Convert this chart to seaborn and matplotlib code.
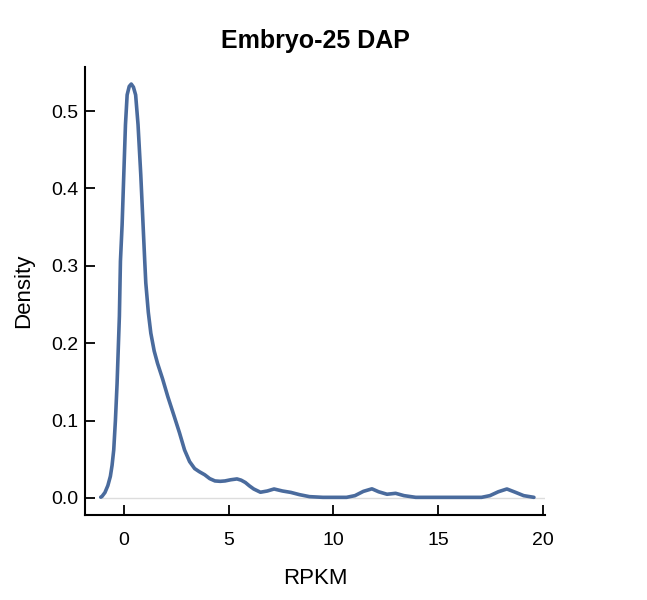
import numpy as np
import pandas as pd
import matplotlib
matplotlib.use("Agg")
import matplotlib.pyplot as plt
import seaborn as sns

# Traced KDE curve (RPKM vs density)
rpkm = [-1.10, -1.04, -0.90, -0.76, -0.64, -0.56, -0.48, -0.40, -0.32, -0.21,
        -0.16, -0.08, 0.00, 0.08, 0.16, 0.26, 0.357, 0.46, 0.565, 0.68,
        0.81, 0.92, 1.00, 1.05, 1.17, 1.29, 1.45, 1.61, 1.85, 2.10,
        2.40, 2.66, 2.90, 3.14, 3.38, 3.60, 3.86, 4.10, 4.35, 4.60,
        4.83, 5.10, 5.40, 5.60, 5.80, 6.00, 6.20, 6.52, 6.85, 7.17,
        7.57, 7.97, 8.38, 8.86, 9.50, 10.63, 11.03, 11.43, 11.84, 12.16,
        12.56, 12.97, 13.37, 13.93, 17.07, 17.47, 17.87, 18.28, 18.68, 19.08,
        19.57]
density = [0.001, 0.002, 0.007, 0.016, 0.028, 0.042, 0.062, 0.100, 0.148, 0.235,
           0.306, 0.353, 0.418, 0.4825, 0.521, 0.532, 0.535, 0.531, 0.521, 0.4825,
           0.418, 0.353, 0.306, 0.278, 0.240, 0.213, 0.190, 0.174, 0.154, 0.131,
           0.106, 0.084, 0.062, 0.047, 0.038, 0.034, 0.030, 0.025, 0.022, 0.0215,
           0.022, 0.0235, 0.0246, 0.023, 0.020, 0.0155, 0.0116, 0.0074, 0.009, 0.0116,
           0.009, 0.0072, 0.0043, 0.0017, 0.0008, 0.0008, 0.003, 0.0085, 0.0118, 0.008,
           0.0048, 0.006, 0.003, 0.0008, 0.0008, 0.003, 0.008, 0.0116, 0.0074, 0.003,
           0.0008]

x_ticks = [0, 5, 10, 15, 20]
y_ticks = [0.0, 0.1, 0.2, 0.3, 0.4, 0.5]

df = pd.DataFrame({"RPKM": rpkm, "Density": density})

sns.set_style("ticks")
plt.rcParams["font.family"] = ["Liberation Sans", "DejaVu Sans"]
plt.rcParams["text.color"] = "black"
plt.rcParams["axes.labelcolor"] = "black"

fig = plt.figure(figsize=(6.47, 6.0), dpi=100)
ax = fig.add_axes([0.1314, 0.1417, 0.7110, 0.7466])

xlim = (-1.85, 20.1)
ax.set_xlim(xlim)
ax.set_ylim(-0.022, 0.557)

# light baseline at zero, starting where the curve starts
x0 = (min(rpkm) - xlim[0]) / (xlim[1] - xlim[0])
ax.axhline(0, xmin=x0, xmax=1, color="#dddddd", lw=1, zorder=1)

sns.lineplot(data=df, x="RPKM", y="Density", estimator=None, sort=False,
             color="#4a6b9d", lw=2.6, ax=ax, zorder=3)
ax.lines[-1].set_solid_joinstyle("round")
ax.lines[-1].set_solid_capstyle("round")

ax.set_xticks(x_ticks)
ax.set_yticks(y_ticks)
ax.set_yticklabels([f"{v:.1f}" for v in y_ticks])
ax.tick_params(axis="both", direction="in", length=7, width=1.3,
               labelsize=14, color="black", labelcolor="black")
ax.tick_params(axis="x", pad=12)
ax.tick_params(axis="y", pad=5)

for side in ["top", "right"]:
    ax.spines[side].set_visible(False)
for side in ["left", "bottom"]:
    ax.spines[side].set_linewidth(1.5)
    ax.spines[side].set_color("black")

ax.set_xlabel("RPKM", fontsize=16, labelpad=14)
ax.set_ylabel("Density", fontsize=16, labelpad=12)
ax.set_title("Embryo-25 DAP", fontsize=18, fontweight="bold", pad=14,
             color="black")

fig.savefig("out.png", dpi=100)
